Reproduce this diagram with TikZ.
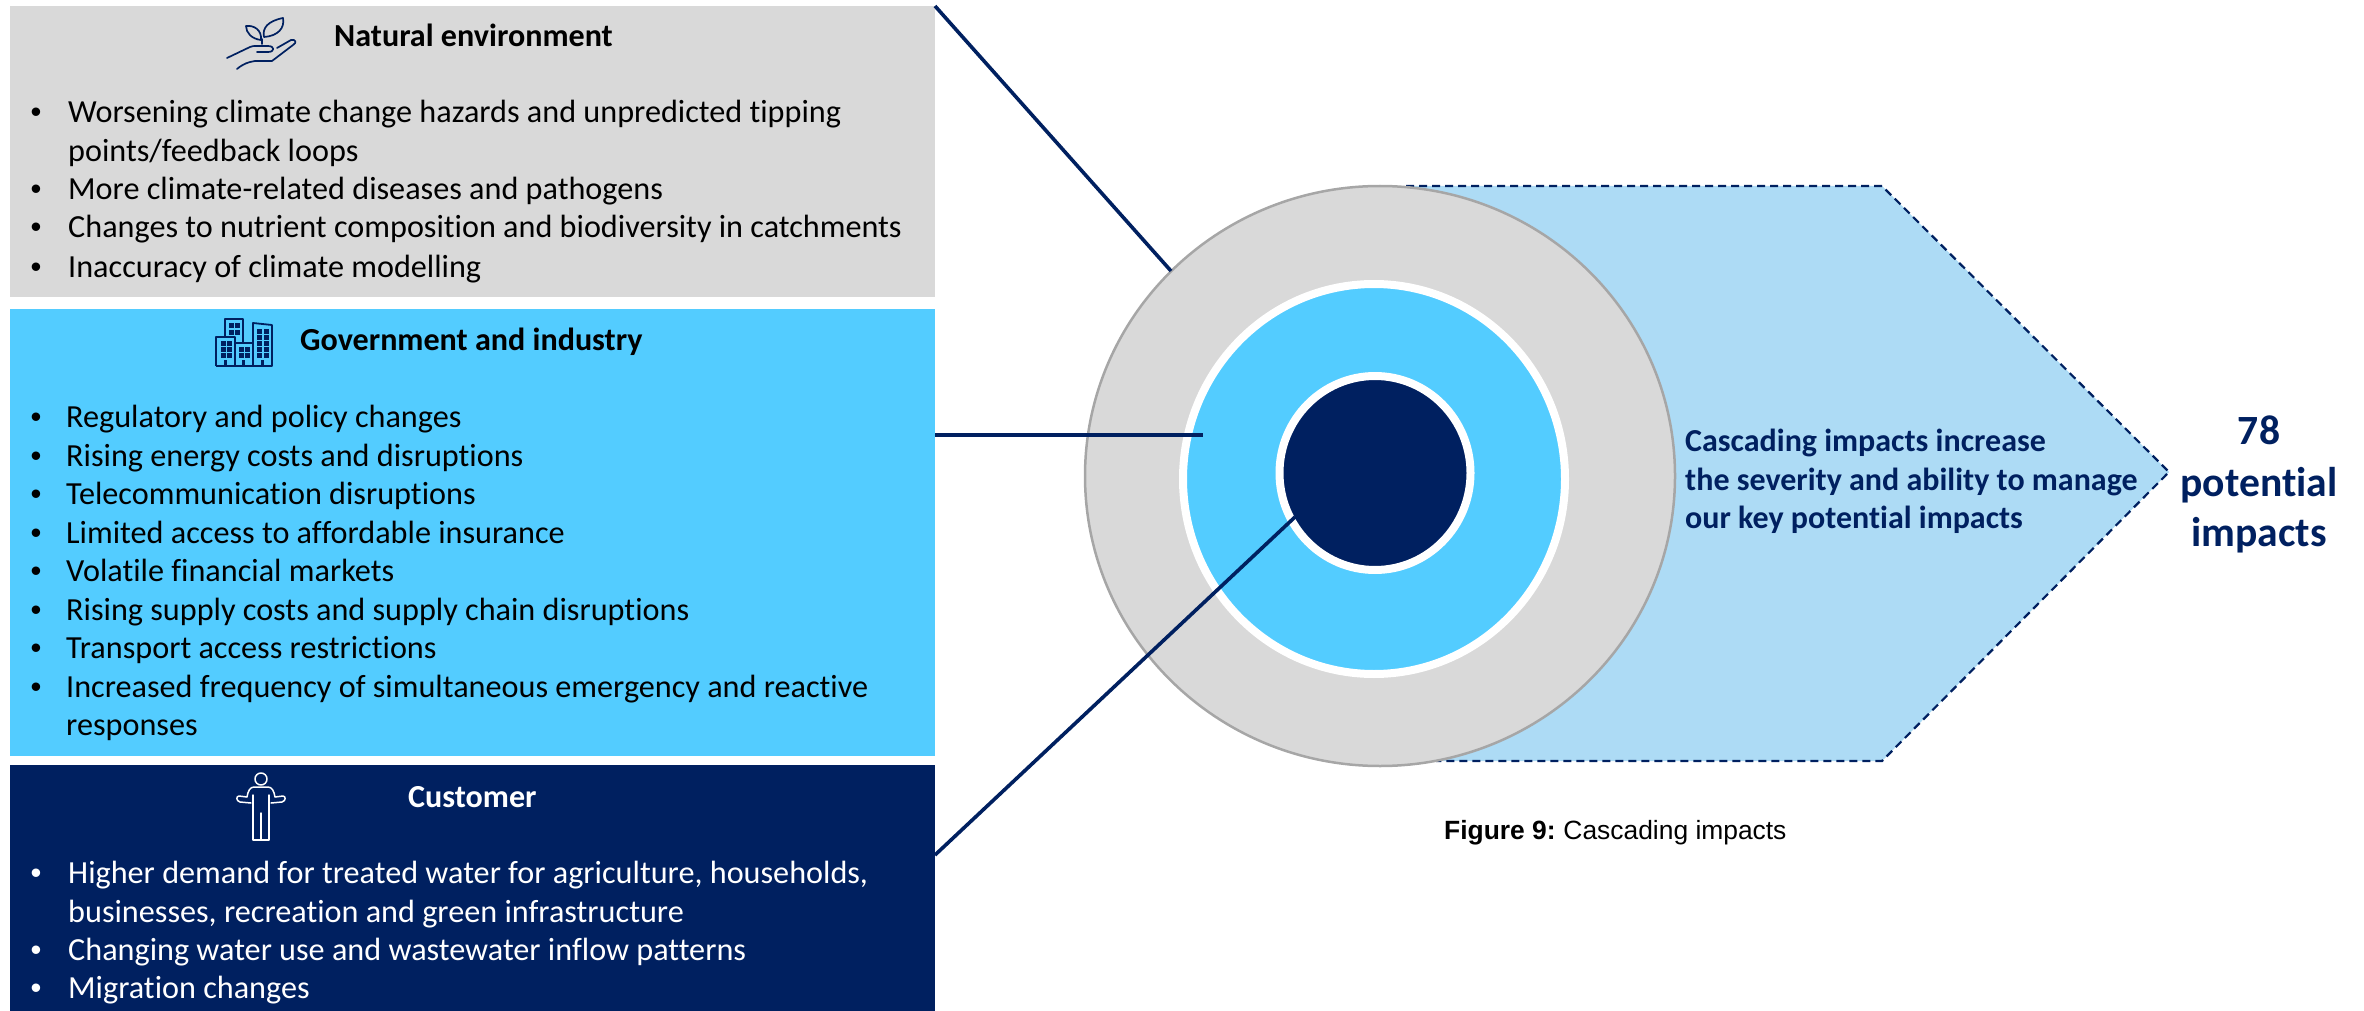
\documentclass[tikz,border=0pt]{standalone}
\usepackage{fontspec}
\setmainfont[Ligatures=NoCommon]{Carlito}
\newfontfamily\figfont{Liberation Sans}
\usetikzlibrary{shapes.geometric}
\definecolor{navy}{HTML}{002060}
\definecolor{cyanb}{HTML}{53CCFF}
\definecolor{greyb}{HTML}{D9D9D9}
\definecolor{paleb}{HTML}{ADDBF5}
\definecolor{ringg}{HTML}{A6A6A6}
\tikzset{
  x=1pt,y=-1pt,
  panel/.style={rectangle,anchor=north west,inner sep=0pt,outer sep=0pt,minimum width=925pt},
  itemline/.style={anchor=base west,inner sep=0pt,font=\fontsize{32.2pt}{36pt}\selectfont},
  itemdot/.style={anchor=base,inner sep=0pt,font=\figfont\fontsize{31pt}{36pt}\selectfont},
  headline/.style={anchor=base west,inner sep=0pt,font=\fontsize{32.1pt}{36pt}\selectfont\bfseries},
  disc/.style={ellipse,inner sep=0pt,outer sep=0pt},
  leader/.style={draw=navy,line width=3.6pt},
  sideline/.style={anchor=base west,inner sep=0pt,text=navy,font=\fontsize{32pt}{36pt}\selectfont\bfseries},
  bigline/.style={anchor=base,inner sep=0pt,text=navy,font=\fontsize{41.6pt}{46pt}\selectfont\bfseries},
  plantline/.style={draw=navy,line width=1.7pt,line cap=round,line join=round},
  houseline/.style={draw=navy,line width=1.8pt,line join=round},
  manline/.style={draw=white,line width=1.5pt,line cap=round,line join=round},
}
\newcommand{\itemrow}[5]{%
  \node[itemdot,text=#1] (#2b) at (36,#3) {•};
  \node[itemline,text=#1] (#2) at (#4,#3) {#5};}
\begin{document}
\begin{tikzpicture}
\useasboundingbox (0,0) rectangle (2364,1011);
% panels
\node[panel,fill=greyb,minimum height=291pt] (envbox) at (10,6) {};
\node[panel,fill=cyanb,minimum height=447pt] (govbox) at (10,309) {};
\node[panel,fill=navy,minimum height=246pt] (cusbox) at (10,765) {};
% cascade shape
\coordinate (pa) at (1406,186);
\coordinate (pb) at (1882,186);
\coordinate (pc) at (2169,472);
\coordinate (pd) at (1882,761);
\coordinate (pe) at (1436,761);
\fill[paleb] (pa)--(pb)--(pc)--(pd)--(pe)--cycle;
\draw[navy,line width=2.2pt,dash pattern=on 8pt off 5pt] (pa)--(pb)--(pc)--(pd)--(pe);
% discs
\node[disc,fill=greyb,draw=ringg,line width=2.5pt,minimum width=590pt,minimum height=580pt] (outer) at (1380,476) {};
\node[disc,fill=cyanb,draw=white,line width=8pt,minimum width=382pt,minimum height=390pt] (middle) at (1374,479) {};
\node[disc,fill=navy,draw=white,line width=8pt,minimum width=191pt,minimum height=194pt] (core) at (1375,473) {};
% leaders
\coordinate (l1) at (1171,271);
\coordinate (l2a) at (935,435);
\coordinate (l2b) at (1203,435);
\coordinate (l3a) at (935,855);
\coordinate (l3b) at (1295,517);
\draw[leader] (envbox.north east) -- (l1);
\draw[leader] (l2a) -- (l2b);
\draw[leader] (l3a) -- (l3b);
% natural environment
\node[headline] (envh) at (334,47) {Natural environment};
\itemrow{black}{e1}{123}{68}{Worsening climate change hazards and unpredicted tipping}
\node[itemline] (e1c) at (68,161.5) {points/feedback loops};
\itemrow{black}{e2}{200}{68}{More climate-related diseases and pathogens}
\itemrow{black}{e3}{238}{68}{Changes to nutrient composition and biodiversity in catchments}
\itemrow{black}{e4}{277}{68}{Inaccuracy of climate modelling}
% government
\node[headline] (govh) at (300,350) {Government and industry};
\itemrow{black}{g1}{427}{66}{Regulatory and policy changes}
\itemrow{black}{g2}{466}{66}{Rising energy costs and disruptions}
\itemrow{black}{g3}{504}{66}{Telecommunication disruptions}
\itemrow{black}{g4}{543}{66}{Limited access to affordable insurance}
\itemrow{black}{g5}{581}{66}{Volatile financial markets}
\itemrow{black}{g6}{620}{66}{Rising supply costs and supply chain disruptions}
\itemrow{black}{g7}{658}{66}{Transport access restrictions}
\itemrow{black}{g8}{697}{66}{Increased frequency of simultaneous emergency and reactive}
\node[itemline] (g8c) at (66,735) {responses};
% customer
\node[headline,text=white] (cush) at (408,807) {Customer};
\itemrow{white}{c1}{883}{68}{Higher demand for treated water for agriculture, households,}
\node[itemline,text=white] (c1c) at (68,922) {businesses, recreation and green infrastructure};
\itemrow{white}{c2}{960}{68}{Changing water use and wastewater inflow patterns}
\itemrow{white}{c3}{998}{68}{Migration changes}
% side text
\node[sideline] (s1) at (1685,451) {Cascading impacts increase};
\node[sideline] (s2) at (1685,490) {the severity and ability to manage};
\node[sideline] (s3) at (1685,528) {our key potential impacts};
\node[bigline] (b1) at (2259,444) {78};
\node[bigline] (b2) at (2259,496) {potential};
\node[bigline] (b3) at (2259,546) {impacts};
\node[anchor=base west,inner sep=0pt,font=\figfont\fontsize{26.4pt}{30pt}\selectfont] (fig) at (1444,839) {\textbf{Figure 9:}\hspace{-2pt} Cascading impacts};
% plant icon
\draw[plantline] (227,58) -- (250,47) .. controls (252,46) and (254,46) .. (256,46) -- (268,46) .. controls (275,46) and (275,52) .. (268,52) -- (257,52);
\draw[plantline] (277,48) -- (291,40) .. controls (296,39) and (297,43) .. (293,45) -- (272,61) -- (255,61) .. controls (248,62) and (243,64) .. (237,69);
\draw[plantline] (262,44) -- (262,39);
\draw[plantline] (261,40) .. controls (252,39) and (246,33) .. (246,26) .. controls (254,25) and (262,30) .. (261,40);
\draw[plantline] (264,37) .. controls (262,28) and (268,21) .. (283,18) .. controls (285,28) and (278,36) .. (264,37);
% building icon
\draw[houseline] (225,337) -- (225,319) -- (243,319) -- (243,343);
\draw[houseline] (216,366) -- (216,337) -- (235,337) -- (235,366);
\draw[houseline] (235,343) -- (253,343) -- (253,366);
\draw[houseline] (253,343) -- (253,323) -- (272,325) -- (272,366) -- (216,366);
\foreach \wx/\wy in {229/323,235/323,229/330,235/330,
  221/341,227/341,221/347,227/347,221/353,227/353,
  239/347,245/347,239/353,245/353,
  257/329,264/329,257/335,264/335,257/341,264/341,257/347,264/347,257/353,264/353}
  \fill[navy] (\wx,\wy) rectangle ++(4.5,4.5);
\foreach \wx in {224,242,261}
  \fill[navy] (\wx,360) rectangle ++(3,5);
% person icon
\draw[manline] (261,779) circle (6pt);
\draw[manline] (251,803) -- (240,802) .. controls (236,801) and (236,796) .. (239,796) -- (247,797) .. controls (248,791) and (250,787) .. (254,787) -- (268,787) .. controls (272,787) and (274,791) .. (275,797) -- (283,796) .. controls (286,796) and (286,801) .. (282,802) -- (271,803);
\draw[manline] (253,795) -- (253,840) -- (269,840) -- (269,795);
\draw[manline] (261,813) -- (261,840);
\end{tikzpicture}
\end{document}
